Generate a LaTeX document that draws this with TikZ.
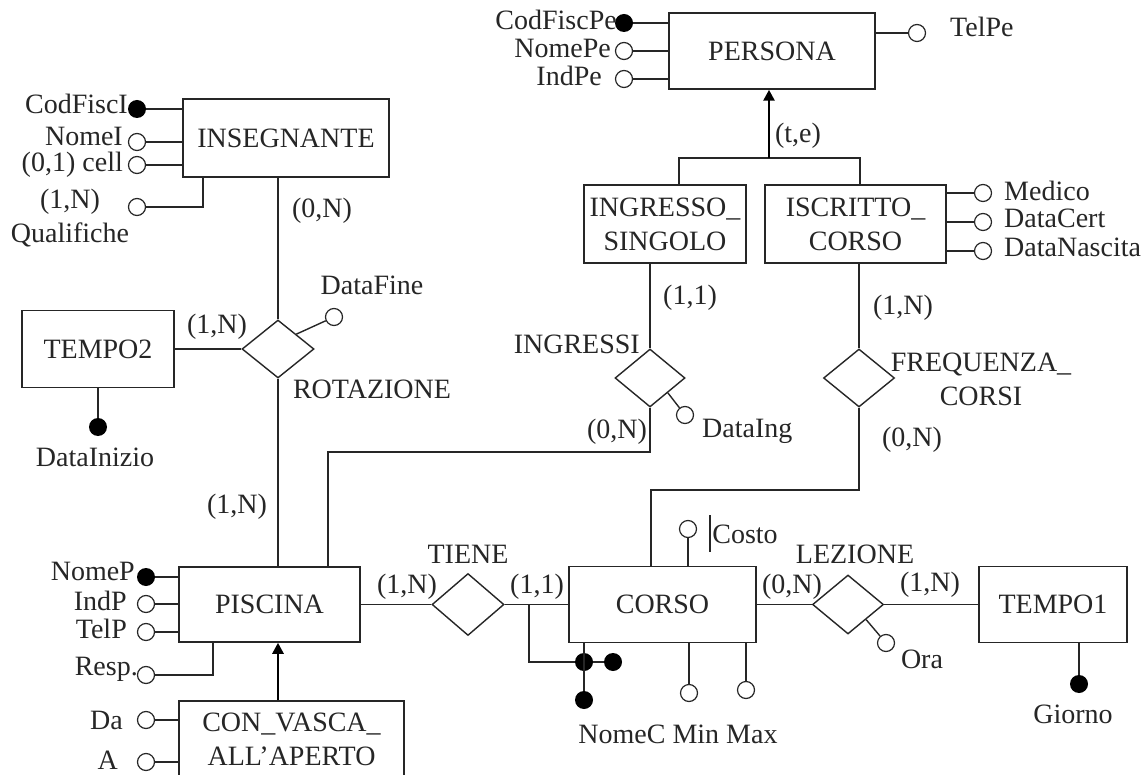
\documentclass[tikz,border=0pt]{standalone}
\usepackage{fontspec}
\setmainfont{Liberation Serif}
\usetikzlibrary{shapes.geometric,arrows.meta}
\begin{document}
\begin{tikzpicture}[x=1pt,y=-1pt,
  every node/.style={font=\fontsize{28}{34}\selectfont, text=black!85},
  ent/.style={draw=black!85, line width=1.5pt, inner sep=0pt, align=center},
  rel/.style={diamond, draw=black!85, line width=1.4pt, inner sep=0pt},
  att/.style={circle, draw=black!85, fill=white, line width=1.2pt, inner sep=0pt, minimum size=17pt},
  key/.style={circle, fill=black, inner sep=0pt, minimum size=18pt},
  lbl/.style={inner sep=0pt},
  conn/.style={draw=black!85, line width=1.4pt},
  isa/.style={draw=black, line width=2.6pt, -{Triangle[length=11pt,width=11pt]}},
]
\useasboundingbox (0,0) rectangle (1145,775);
\clip (0,0) rectangle (1145,775);
\fill[white] (0,0) rectangle (1145,775);

% entities
\node[ent, minimum width=206pt, minimum height=76pt] (pers) at (772,51) {PERSONA};
\node[ent, minimum width=206pt, minimum height=78pt] (ins) at (286,138) {INSEGNANTE};
\node[ent, minimum width=162pt, minimum height=78pt] (ings) at (665,224) {INGRESSO\_\\SINGOLO};
\node[ent, minimum width=181pt, minimum height=78pt] (isc) at (855.5,224) {ISCRITTO\_\\CORSO};
\node[ent, minimum width=152pt, minimum height=77pt] (t2) at (98,349) {TEMPO2};
\node[ent, minimum width=181pt, minimum height=75pt] (pisc) at (269.5,604.5) {PISCINA};
\node[ent, minimum width=225pt, minimum height=76pt] (cv) at (291.5,739) {CON\_VASCA\_\\ALL'APERTO};
\node[ent, minimum width=187pt, minimum height=76pt] (corso) at (662.5,604.5) {CORSO};
\node[ent, minimum width=148pt, minimum height=76pt] (t1) at (1053,604.5) {TEMPO1};

% relationships
\node[rel, minimum width=72pt, minimum height=58pt] (rot) at (278,349) {};
\node[rel, minimum width=70pt, minimum height=58pt] (ingr) at (650,378) {};
\node[rel, minimum width=71pt, minimum height=58pt] (freq) at (859,378) {};
\node[rel, minimum width=72pt, minimum height=62pt] (tiene) at (468,604.5) {};
\node[rel, minimum width=71pt, minimum height=59pt] (lez) at (848,604.5) {};

% helper coordinates
\coordinate (jI) at (328,452);
\coordinate (jF) at (651,490);
\coordinate (hl) at (679,158);
\coordinate (hr) at (860,158);
\coordinate (hm) at (769,158);
\coordinate (qb) at (203,0);
\coordinate (rb) at (213,0);
\coordinate (ci) at (529,604.5);

% connectors
\draw[conn] (rot.north) -- (rot.north |- ins.south);
\draw[conn] (rot.south) -- (rot.south |- pisc.north);
\draw[conn] (t2.east) -- (rot.west);
\draw[conn] (ingr.north) -- (ingr.north |- ings.south);
\draw[conn] (ingr.south) |- (jI) -- (jI |- pisc.north);
\draw[conn] (freq.north) -- (freq.north |- isc.south);
\draw[conn] (freq.south) |- (jF) -- (jF |- corso.north);
\draw[conn] (hl |- ings.north) -- (hl) -- (hr) -- (hr |- isc.north);
\draw[isa] (hm) -- (hm |- pers.south);
\draw[conn] (pisc.east) -- (tiene.west);
\draw[conn] (tiene.east) -- (corso.west);
\draw[conn] (corso.east) -- (lez.west);
\draw[conn] (lez.east) -- (t1.west);
\draw[isa] (cv.north -| rot.south) -- (rot.south |- pisc.south);

% PERSONA attributes
\node[key] (kpe) at (624,23) {};
\node[att] (ape1) at (624,51) {};
\node[att] (ape2) at (624,79) {};
\node[att] (ape3) at (917,33) {};
\draw[conn] (kpe) -- (kpe -| pers.west);
\draw[conn] (ape1) -- (ape1 -| pers.west);
\draw[conn] (ape2) -- (ape2 -| pers.west);
\draw[conn] (ape3) -- (ape3 -| pers.east);
\node[lbl, anchor=base east] at (617,30) {CodFiscPe};
\node[lbl, anchor=base east] at (611,58) {NomePe};
\node[lbl, anchor=base east] at (602,86) {IndPe};
\node[lbl, anchor=base west] at (950,37) {TelPe};
\node[lbl, anchor=base] at (798,143) {(t,e)};

% INSEGNANTE attributes
\node[key] (kin) at (137,109) {};
\node[att] (ain1) at (137,142) {};
\node[att] (ain2) at (137,165) {};
\node[att] (aq) at (137,207) {};
\draw[conn] (kin) -- (kin -| ins.west);
\draw[conn] (ain1) -- (ain1 -| ins.west);
\draw[conn] (ain2) -- (ain2 -| ins.west);
\draw[conn] (aq) -| (qb |- ins.south);
\node[lbl, anchor=base east] at (128,114) {CodFiscI};
\node[lbl, anchor=base east] at (123,146) {NomeI};
\node[lbl, anchor=base east] at (123,172) {(0,1) cell};
\node[lbl, anchor=base] at (70,209) {(1,N)};
\node[lbl, anchor=base] at (70,243) {Qualifiche};
\node[lbl, anchor=base] at (322,218) {(0,N)};

% TEMPO2 / ROTAZIONE
\node[key] (kdi) at (98,427) {};
\draw[conn] (kdi) -- (kdi |- t2.south);
\node[att] (adf) at (334,317) {};
\draw[conn] (rot.north east) -- (adf);
\node[lbl, anchor=base] at (95,466) {DataInizio};
\node[lbl, anchor=base] at (372,295) {DataFine};
\node[lbl, anchor=base] at (372,398) {ROTAZIONE};
\node[lbl, anchor=base] at (217,334) {(1,N)};
\node[lbl, anchor=base] at (237,513) {(1,N)};

% ISCRITTO_CORSO attributes
\node[att] (am) at (983,193) {};
\node[att] (adc) at (983,222) {};
\node[att] (adn) at (983,251) {};
\draw[conn] (am) -- (am -| isc.east);
\draw[conn] (adc) -- (adc -| isc.east);
\draw[conn] (adn) -- (adn -| isc.east);
\node[lbl, anchor=base west] at (1004,201) {Medico};
\node[lbl, anchor=base west] at (1004,228) {DataCert};
\node[lbl, anchor=base west] at (1004,257) {DataNascita};

% INGRESSI
\node[att] (adi) at (685,415) {};
\draw[conn] (ingr.south east) -- (adi);
\node[lbl, anchor=base east] at (640,353) {INGRESSI};
\node[lbl, anchor=base] at (690,305) {(1,1)};
\node[lbl, anchor=base] at (617,438) {(0,N)};
\node[lbl, anchor=base west] at (702,437) {DataIng};

% FREQUENZA_CORSI
\node[lbl, anchor=base] at (903,315) {(1,N)};
\node[lbl, align=center] at (981,379) {FREQUENZA\_\\CORSI};
\node[lbl, anchor=base] at (912,446) {(0,N)};

% PISCINA attributes
\node[key] (kp) at (146,577) {};
\node[att] (ap1) at (146,604) {};
\node[att] (ap2) at (146,632) {};
\node[att] (aresp) at (146,675) {};
\draw[conn] (kp) -- (kp -| pisc.west);
\draw[conn] (ap1) -- (ap1 -| pisc.west);
\draw[conn] (ap2) -- (ap2 -| pisc.west);
\draw[conn] (aresp) -| (rb |- pisc.south);
\node[lbl, anchor=base east] at (135,580) {NomeP};
\node[lbl, anchor=base east] at (127,610) {IndP};
\node[lbl, anchor=base east] at (127,638) {TelP};
\node[lbl, anchor=base east] at (138,675) {Resp.};

% CON_VASCA attributes
\node[att] (ada) at (146,720) {};
\node[att] (aa) at (146,762) {};
\draw[conn] (ada) -- (ada -| cv.west);
\draw[conn] (aa) -- (aa -| cv.west);
\node[lbl, anchor=base east] at (123,729) {Da};
\node[lbl, anchor=base east] at (118,769) {A};

% TIENE
\node[lbl, anchor=base] at (468,563) {TIENE};
\node[lbl, anchor=base] at (407,593) {(1,N)};
\node[lbl, anchor=base] at (537,593) {(1,1)};

% CORSO attributes
\node[key] (k1) at (584,662) {};
\node[key] (k2) at (613,662) {};
\node[key] (k3) at (584,700) {};
\draw[conn] (ci) |- (k1);
\draw[conn] (k1) -- (k2);
\draw[conn] (k3) -- (k3 |- corso.south);
\node[att] (amin) at (689,693) {};
\node[att] (amax) at (746,690) {};
\draw[conn] (amin) -- (amin |- corso.south);
\draw[conn] (amax) -- (amax |- corso.south);
\node[att] (acosto) at (688,529) {};
\draw[conn] (acosto) -- (acosto |- corso.north);
\draw[conn] (710,515) -- (710,552);
\node[lbl, anchor=base] at (745,543) {Costo};
\node[lbl, anchor=base] at (678,743) {NomeC Min Max};

% LEZIONE
\node[att] (aora) at (886,643) {};
\draw[conn] (lez.south east) -- (aora);
\node[lbl, anchor=base] at (855,563) {LEZIONE};
\node[lbl, anchor=base] at (792,593) {(0,N)};
\node[lbl, anchor=base] at (930,591) {(1,N)};
\node[lbl, anchor=base] at (922,668) {Ora};

% TEMPO1
\node[key] (kg) at (1079,684) {};
\draw[conn] (kg) -- (kg |- t1.south);
\node[lbl, anchor=base] at (1073,723) {Giorno};
\end{tikzpicture}
\end{document}
